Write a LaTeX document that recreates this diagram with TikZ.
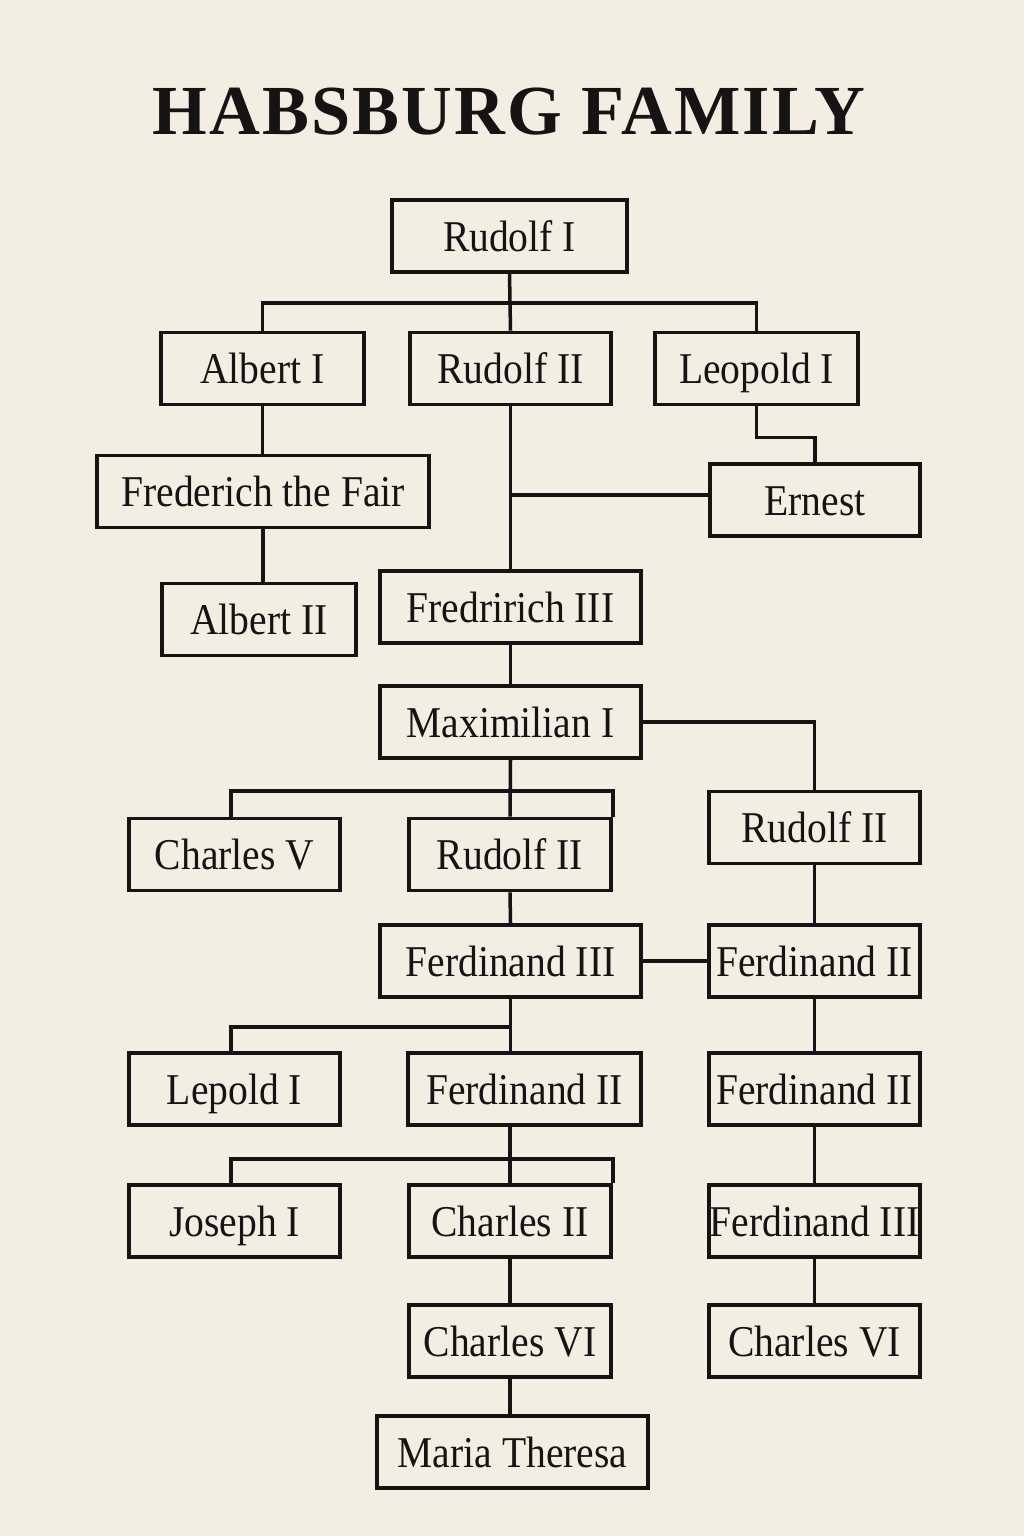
\documentclass[tikz,border=0pt]{standalone}
\usepackage{fontspec}
\setmainfont{Liberation Serif}
\newfontfamily\titlefont[LetterSpace=3]{Liberation Serif}
\newfontfamily\namefont[FakeStretch=0.9]{Liberation Serif}
\usetikzlibrary{positioning}

\definecolor{paper}{HTML}{F3EEE4}
\definecolor{ink}{HTML}{161412}

\tikzset{
  person/.style={draw=ink, line width=1pt, text=ink, minimum height=0.72cm,
    inner sep=0pt, text height=0.3cm, text depth=0cm, font=\namefont\fontsize{12.5pt}{14pt}\selectfont},
  link/.style={draw=ink, line width=1pt}
}

\begin{document}
\begin{tikzpicture}[x=0.01cm, y=-0.01cm]

\fill[paper] (0,0) rectangle (1024,1536);
\useasboundingbox (0,0) rectangle (1024,1536);

\node[text=ink, font=\titlefont\bfseries\fontsize{20pt}{24pt}\selectfont] (title) at (509,112) {HABSBURG FAMILY};

% first generations
\node[person, minimum width=2.35cm] (rudolfI) at (509.5,236) {Rudolf I};
\node[person, minimum width=2.03cm] (albertI) at (262.5,368.5) {Albert I};
\node[person, minimum width=2.01cm] (rudolfIIa) at (510.5,368.5) {Rudolf II};
\node[person, minimum width=2.03cm] (leopoldI) at (756.5,368.5) {Leopold I};
\node[person, minimum width=3.32cm] (fair) at (263,491.5) {Frederich the Fair};
\node[person, minimum width=2.10cm] (ernest) at (815,500) {Ernest};
\node[person, minimum width=1.94cm] (albertII) at (259,619.5) {Albert II};
\node[person, minimum width=2.61cm] (fredIII) at (510.5,607) {Fredririch III};
\node[person, minimum width=2.61cm] (maxI) at (510.5,722) {Maximilian I};

% middle
\node[person, minimum width=2.11cm] (rudolfIIc) at (814.5,827.5) {Rudolf II};
\node[person, minimum width=2.11cm] (charlesV) at (234.5,854.5) {Charles V};
\node[person, minimum width=2.02cm] (rudolfIIb) at (510,854.5) {Rudolf II};
\node[person, minimum width=2.61cm] (ferdIIIa) at (510.5,961) {Ferdinand III};
\node[person, minimum width=2.11cm] (ferdIIa) at (814.5,961) {Ferdinand II};
\node[person, minimum width=2.11cm] (lepoldI) at (234.5,1089) {Lepold I};
\node[person, minimum width=2.33cm] (ferdIIb) at (524.5,1089) {Ferdinand II};
\node[person, minimum width=2.11cm] (ferdIIc) at (814.5,1089) {Ferdinand II};

% last generations
\node[person, minimum width=2.11cm] (josephI) at (234.5,1221) {Joseph I};
\node[person, minimum width=2.02cm] (charlesII) at (510,1221) {Charles II};
\node[person, minimum width=2.11cm] (ferdIIIb) at (814.5,1221) {Ferdinand III};
\node[person, minimum width=2.02cm] (charlesVIa) at (510,1341) {Charles VI};
\node[person, minimum width=2.11cm] (charlesVIb) at (814.5,1341) {Charles VI};
\node[person, minimum width=2.71cm] (maria) at (512.5,1452) {Maria Theresa};

\coordinate (barA) at (510,303);
\coordinate (barB) at (510,791);
\coordinate (barC) at (510,1027);
\coordinate (barD) at (510,1159);

\draw[link] (rudolfI.south) -- (rudolfIIa.north);
\draw[link] (albertI.north) |- (barA) -| (leopoldI.north);
\draw[link] (albertI.south) -- (albertI.south |- fair.north);
\draw[link] (fair.south) -- (fair.south |- albertII.north);
\draw[link] (leopoldI.south) -- ++(0,31) -| (ernest.north);
\draw[link] (ernest.west |- 0,495) -- (rudolfIIa.south |- 0,495);
\draw[link] (rudolfIIa.south) -- (fredIII.north);
\draw[link] (fredIII.south) -- (maxI.north);
\draw[link] (maxI.east) -| (rudolfIIc.north);
\draw[link] (maxI.south) -- (rudolfIIb.north);
\draw[link] (charlesV.north -| 231,0) |- (barB) -| (rudolfIIb.north east);
\draw[link] (rudolfIIb.south) -- (ferdIIIa.north);
\draw[link] (ferdIIIa.east) -- (ferdIIa.west);
\draw[link] (rudolfIIc.south) -- (ferdIIa.north);
\draw[link] (ferdIIa.south) -- (ferdIIc.north);
\draw[link] (ferdIIc.south) -- (ferdIIIb.north);
\draw[link] (ferdIIIb.south) -- (charlesVIb.north);
\draw[link] (ferdIIIa.south) -- (ferdIIIa.south |- ferdIIb.north);
\draw[link] (lepoldI.north -| 231,0) |- (barC);
\draw[link] (ferdIIb.south -| charlesII.north) -- (charlesII.north);
\draw[link] (josephI.north -| 231,0) |- (barD) -| (charlesII.north east);
\draw[link] (charlesII.south) -- (charlesVIa.north);
\draw[link] (charlesVIa.south) -- (charlesVIa.south |- maria.north);

\end{tikzpicture}
\end{document}
